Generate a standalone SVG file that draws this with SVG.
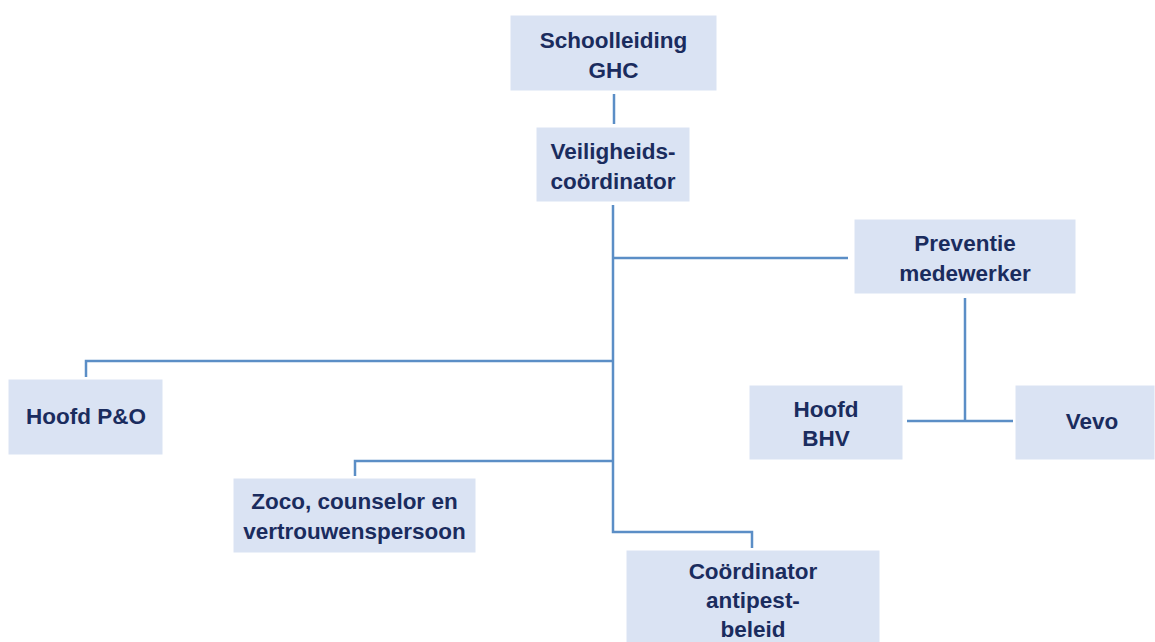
<svg xmlns="http://www.w3.org/2000/svg" width="1155" height="642" viewBox="0 0 1155 642">
<style>
.box{fill:#dae3f3;stroke:#ffffff;stroke-width:1}
.t{font-family:"Liberation Sans",Arial,sans-serif;font-weight:bold;font-size:22.5px;fill:#1a2c5e;text-anchor:middle}
.c{fill:none;stroke:#5b8ec6;stroke-width:2.5}
</style>
<rect width="1155" height="642" fill="#ffffff"/>
<g id="connectors">
<path class="c" d="M614 94 V124"/>
<path class="c" d="M613 205 V532 H752 V548"/>
<path class="c" d="M613 258 H848"/>
<path class="c" d="M613 361 H86 V377"/>
<path class="c" d="M613 461 H355 V476"/>
<path class="c" d="M965 298 V421"/>
<path class="c" d="M907 421 H1013"/>
</g>
<g id="schoolleiding">
<rect class="box" x="510" y="15" width="207" height="76"/>
<text class="t" x="613.5" y="48">Schoolleiding</text>
<text class="t" x="613.5" y="78">GHC</text>
</g>
<g id="veiligheidscoordinator">
<rect class="box" x="536" y="127" width="154" height="75"/>
<text class="t" x="613" y="159">Veiligheids-</text>
<text class="t" x="613" y="189">coördinator</text>
</g>
<g id="preventiemedewerker">
<rect class="box" x="854" y="219" width="222" height="75"/>
<text class="t" x="965" y="251">Preventie</text>
<text class="t" x="965" y="281">medewerker</text>
</g>
<g id="hoofdbhv">
<rect class="box" x="749" y="385" width="154" height="75"/>
<text class="t" x="826" y="417">Hoofd</text>
<text class="t" x="826" y="446">BHV</text>
</g>
<g id="vevo">
<rect class="box" x="1015" y="385" width="140" height="75"/>
<text class="t" x="1092" y="429">Vevo</text>
</g>
<g id="hoofdpo">
<rect class="box" x="8" y="379" width="155" height="76"/>
<text class="t" x="86" y="424">Hoofd P&amp;O</text>
</g>
<g id="zoco">
<rect class="box" x="233" y="478" width="243" height="75"/>
<text class="t" x="354.5" y="509">Zoco, counselor en</text>
<text class="t" x="354.5" y="539">vertrouwenspersoon</text>
</g>
<g id="antipest">
<rect class="box" x="626" y="550" width="254" height="95"/>
<text class="t" x="753" y="579">Coördinator</text>
<text class="t" x="753" y="608">antipest-</text>
<text class="t" x="753" y="637">beleid</text>
</g>
</svg>
